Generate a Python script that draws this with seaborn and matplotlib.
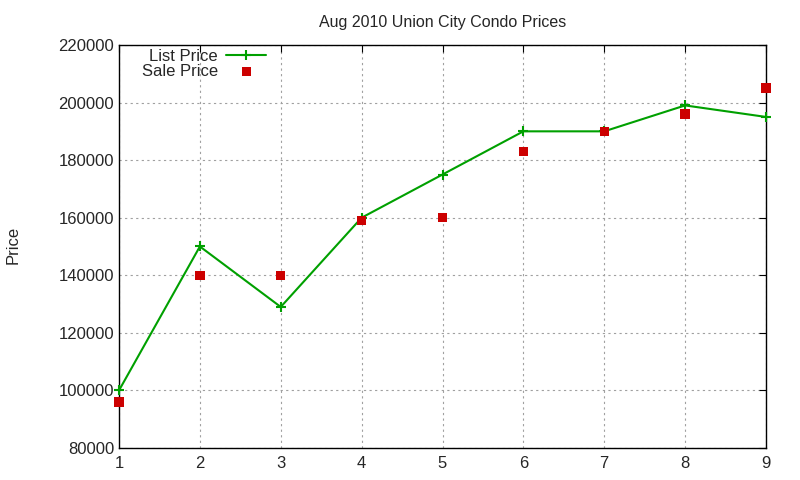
import pandas as pd
import seaborn as sns
import matplotlib.pyplot as plt

months = [1, 2, 3, 4, 5, 6, 7, 8, 9]
list_price = [100000, 150000, 129000, 160000, 175000, 190000, 190000, 199000, 195000]
sale_price = [96000, 140000, 140000, 159000, 160000, 183000, 190000, 196000, 205000]

df = pd.DataFrame({'Month': months, 'List Price': list_price, 'Sale Price': sale_price})

sns.set_style('white')
plt.rcParams['font.family'] = ['Liberation Sans', 'DejaVu Sans']

fig = plt.figure(figsize=(8, 4.8), dpi=100)
ax = fig.add_axes([0.14875, 0.0667, 0.80875, 0.8396])

sns.lineplot(data=df, x='Month', y='List Price', ax=ax, color='#00a000', linewidth=1.5,
             marker='+', markersize=7, markeredgewidth=1.5, markeredgecolor='#00a000',
             label='List Price', zorder=3, clip_on=False)
sns.scatterplot(data=df, x='Month', y='Sale Price', ax=ax, color='#cc0000', marker='s',
                s=45, edgecolor='none', label='Sale Price', zorder=4, clip_on=False)

ax.set_xlim(1, 9)
ax.set_ylim(80000, 220000)
ax.set_xticks(months)
ax.set_yticks(range(80000, 220001, 20000))
ax.grid(True, color='#a0a0a0', linestyle=(0, (2, 3)), linewidth=0.8)
ax.tick_params(direction='in', top=True, right=True, length=5, labelsize=12, color='black')
ax.tick_params(axis='x', pad=6)
for s in ax.spines.values():
    s.set_color('black')
    s.set_linewidth(1)

ax.set_xlabel('')
ax.set_ylabel('')
fig.text(0.017, 0.49, 'Price', rotation=90, fontsize=12, va='center', ha='center')
ax.set_title('Aug 2010 Union City Condo Prices', fontsize=11.5, pad=13)

leg = ax.legend(loc='upper left', bbox_to_anchor=(0.02, 1.015), frameon=False, markerfirst=False,
                fontsize=12, handlelength=2.4, handletextpad=0.5, labelspacing=0.0,
                borderaxespad=0.2)

fig.savefig('out.png', dpi=100)
